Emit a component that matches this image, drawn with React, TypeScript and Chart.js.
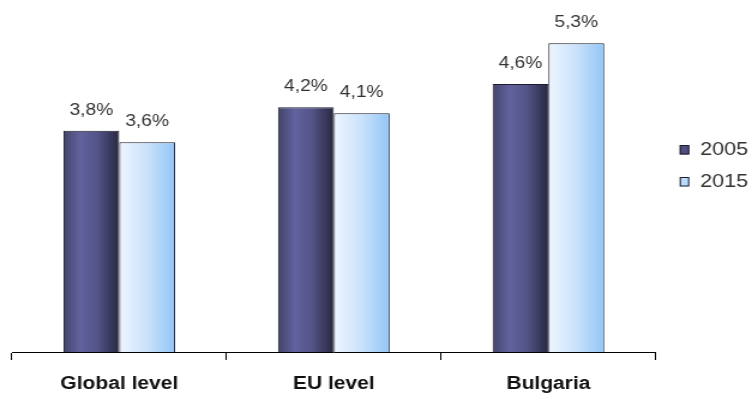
import React, { useEffect, useRef } from "react";
import { Chart, registerables } from "chart.js";

Chart.register(...registerables);

// Series data
const categories = ["Global level", "EU level", "Bulgaria"];
const seriesLabels = ["2005", "2015"];
const values2005 = [3.8, 4.2, 4.6];
const values2015 = [3.6, 4.1, 5.3];

// The chart is drawn on a narrower backing canvas and widened by CSS.
const VIEW_W = 752;
const VIEW_H = 394;
const DRAW_W = 627;

const CAT_PCT = 0.52;
const FONT = "'Liberation Sans', Arial, sans-serif";

const darkStops: [number, string][] = [
  [0, "#44446c"],
  [0.3, "#62629e"],
  [0.6, "#55558a"],
  [1, "#28283f"],
];
const lightStops: [number, string][] = [
  [0, "#eef6ff"],
  [0.5, "#cae2fb"],
  [1, "#92c6f7"],
];

function barGradient(c: any, stops: [number, string][]) {
  const chart = c.chart;
  const xs = chart.scales && chart.scales.x;
  if (!xs || c.type !== "data" || !isFinite(xs.left)) return stops[1][1];
  const center = xs.getPixelForValue(c.dataIndex);
  const catW = (xs.right - xs.left) / categories.length;
  const bw = (catW * CAT_PCT) / 2;
  const left = center + (c.datasetIndex - 1) * bw;
  const g = chart.ctx.createLinearGradient(left, 0, left + bw, 0);
  stops.forEach(([o, col]) => g.addColorStop(o, col));
  return g;
}

const valueLabels = {
  id: "valueLabels",
  afterDatasetsDraw(chart: any) {
    const ctx = chart.ctx;
    ctx.save();
    ctx.font = `16px ${FONT}`;
    ctx.fillStyle = "#333333";
    ctx.textAlign = "center";
    ctx.textBaseline = "alphabetic";
    chart.data.datasets.forEach((ds: any, di: number) => {
      const meta = chart.getDatasetMeta(di);
      meta.data.forEach((el: any, i: number) => {
        const v = ds.data[i] as number;
        ctx.fillText(v.toFixed(1).replace(".", ",") + "%", el.x, el.y - 16);
      });
    });
    ctx.restore();
  },
};

const swatchColors = ["#4f4f80", "#b9dcfb"];

const sideLegend = {
  id: "sideLegend",
  afterDraw(chart: any) {
    const ctx = chart.ctx;
    const x0 = chart.chartArea.right + 20;
    const rows = [154.5, 186.5];
    ctx.save();
    ctx.font = `18px ${FONT}`;
    ctx.textBaseline = "alphabetic";
    ctx.textAlign = "left";
    chart.data.datasets.forEach((ds: any, i: number) => {
      const base = rows[i];
      ctx.fillStyle = swatchColors[i];
      ctx.fillRect(x0, base - 9.5, 8, 9.5);
      ctx.strokeStyle = "#1c1c2c";
      ctx.lineWidth = 1;
      ctx.strokeRect(x0 + 0.5, base - 9, 7, 8.5);
      ctx.fillStyle = "#333333";
      ctx.fillText(ds.label, x0 + 17, base);
    });
    ctx.restore();
  },
};

export default function App() {
  const ref = useRef<HTMLCanvasElement | null>(null);

  useEffect(() => {
    document.body.style.margin = "0";
    const canvas = ref.current;
    if (!canvas) return;
    const chart = new Chart(canvas, {
      type: "bar",
      data: {
        labels: categories,
        datasets: [
          {
            label: seriesLabels[0],
            data: values2005,
            backgroundColor: (c: any) => barGradient(c, darkStops),
            borderColor: "#1c1c2c",
            borderWidth: 1,
          },
          {
            label: seriesLabels[1],
            data: values2015,
            backgroundColor: (c: any) => barGradient(c, lightStops),
            borderColor: "#1c1c2c",
            borderWidth: 1,
          },
        ],
      },
      options: {
        responsive: false,
        animation: false,
        devicePixelRatio: 1,
        layout: { padding: { left: 10, right: 80.3, top: 2.5, bottom: 0 } },
        datasets: { bar: { categoryPercentage: CAT_PCT, barPercentage: 1 } },
        plugins: { legend: { display: false }, tooltip: { enabled: false } },
        scales: {
          x: {
            offset: true,
            afterFit: (scale: any) => {
              scale.height = 42;
            },
            grid: {
              offset: true,
              drawOnChartArea: false,
              drawTicks: true,
              tickLength: 8,
              color: "#000000",
              lineWidth: 1,
            },
            border: { display: true, color: "#000000", width: 1 },
            ticks: {
              padding: 13.5,
              color: "#111111",
              font: { family: FONT, size: 17.5, weight: "bold" },
            },
          },
          y: { display: false, min: 0, max: 6 },
        },
      },
      plugins: [valueLabels, sideLegend],
    });
    return () => chart.destroy();
  }, []);

  return (
    <div style={{ position: "absolute", left: 0, top: 0, width: VIEW_W, height: VIEW_H, background: "#fff" }}>
      <canvas
        ref={ref}
        width={DRAW_W}
        height={VIEW_H}
        style={{ width: VIEW_W + "px", height: VIEW_H + "px", display: "block" }}
      />
    </div>
  );
}
